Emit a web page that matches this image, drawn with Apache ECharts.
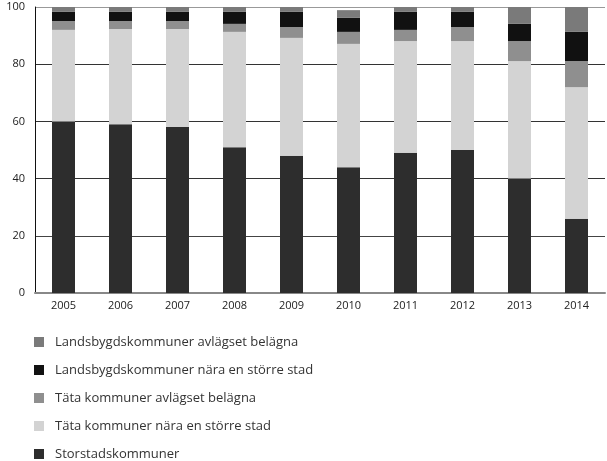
<!DOCTYPE html>
<html><head><meta charset="utf-8">
<script src="https://cdn.jsdelivr.net/npm/echarts@6/dist/echarts.min.js"></script>
<style>html,body{margin:0;padding:0;background:#fff}#c{width:607px;height:461px}</style>
</head><body><div id="c"></div>
<script>
const years = ['2005','2006','2007','2008','2009','2010','2011','2012','2013','2014'];
const storstad = [60,59,58,51,48,44,49,50,40,26];
const tataNara = [32,33.3,34.3,40.3,41.2,43.1,39.1,38.1,41.1,46];
const tataAvl = [3.1,2.8,2.8,2.8,3.8,4.2,3.9,4.9,7,9.1];
const landsNara = [3.2,3.2,3.2,4.2,5.3,4.9,6.3,5.3,6,10.2];
const landsAvl = [1.7,1.7,1.7,1.7,1.7,2.7,1.7,1.7,5.9,8.7];
const yTicks = [0,20,40,60,80,100];

const font = 'Open Sans';
const mk = (name, data, color) => ({
  name, type: 'bar', stack: 's', data, barWidth: 23,
  itemStyle: { color }, silent: true
});
const chart = echarts.init(document.getElementById('c'), null, {renderer:'canvas'});
chart.setOption({
  animation: false,
  grid: { left: 35, right: 2, top: 7, bottom: 168, containLabel: false },
  legend: {
    orient: 'vertical', left: 29, top: 329, height: 200, width: 400,
    itemWidth: 10, itemHeight: 10, itemGap: 12,
    icon: 'rect',
    textStyle: { fontFamily: font, fontSize: 13, color: '#333', padding: [0,0,0,6], lineHeight: 16 },
    data: ['Landsbygdskommuner avlägset belägna','Landsbygdskommuner nära en större stad','Täta kommuner avlägset belägna','Täta kommuner nära en större stad','Storstadskommuner']
  },
  xAxis: {
    type: 'category', data: years,
    axisLine: { lineStyle: { color: '#888', width: 2 } },
    axisTick: { show: false },
    axisLabel: { fontFamily: font, fontSize: 11, color: '#222', margin: 7 }
  },
  yAxis: {
    type: 'value', min: 0, max: 100, interval: 20,
    axisLine: { show: true, lineStyle: { color: '#111', width: 1 } },
    axisTick: { show: false },
    splitLine: { lineStyle: { color: ['#888','#444','#333','#333','#333','#999'], width: 1 } },
    axisLabel: { fontFamily: font, fontSize: 11, color: '#222', margin: 10,
      formatter: v => yTicks.includes(v) ? String(v) : '' }
  },
  series: [
    mk('Storstadskommuner', storstad, '#2d2d2d'),
    mk('Täta kommuner nära en större stad', tataNara, '#d3d3d3'),
    mk('Täta kommuner avlägset belägna', tataAvl, '#8f8f8f'),
    mk('Landsbygdskommuner nära en större stad', landsNara, '#111111'),
    mk('Landsbygdskommuner avlägset belägna', landsAvl, '#7a7a7a')
  ]
});
</script></body></html>
